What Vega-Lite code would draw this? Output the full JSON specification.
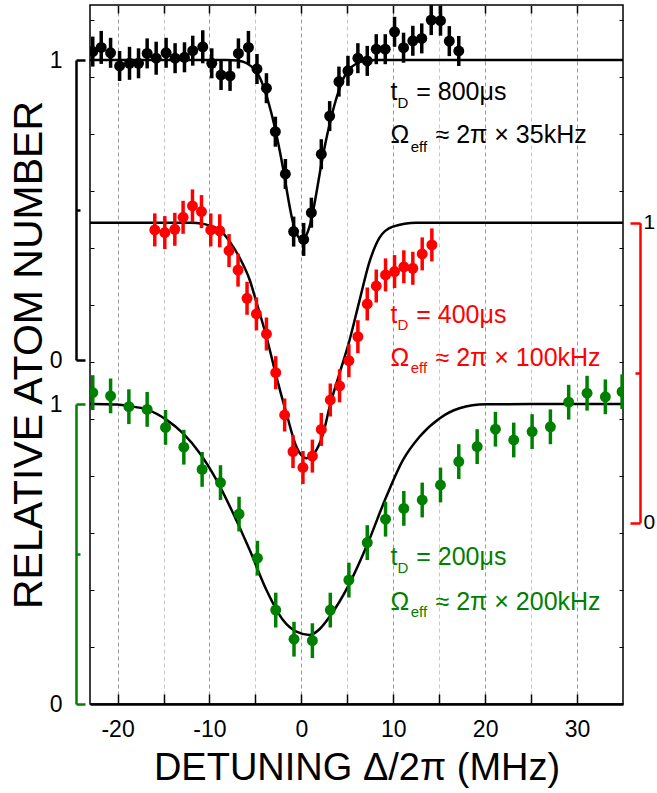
{
  "$schema": "https://vega.github.io/schema/vega-lite/v6.json",
  "width": 533,
  "height": 699,
  "autosize": {"type": "none"},
  "padding": {"left": 90, "top": 5, "right": 34, "bottom": 89},
  "config": {
    "font": "Liberation Sans",
    "view": {"stroke": "#000", "strokeWidth": 1.5},
    "axis": {"labelFont": "Liberation Sans", "titleFont": "Liberation Sans", "titleFontWeight": "normal", "labelColor": "#000", "titleColor": "#000", "tickColor": "#000", "domainColor": "#000"},
    "text": {"font": "Liberation Sans"}
  },
  "datasets": {
    "black": [
      {"x": -22.7, "y": 1.028, "e": 0.05}, {"x": -21.78, "y": 1.042, "e": 0.055}, {"x": -20.76, "y": 1.024, "e": 0.05},
      {"x": -19.78, "y": 0.98, "e": 0.05}, {"x": -18.7, "y": 0.989, "e": 0.055}, {"x": -17.72, "y": 0.989, "e": 0.05},
      {"x": -16.78, "y": 1.022, "e": 0.05}, {"x": -15.8, "y": 1.006, "e": 0.055}, {"x": -14.72, "y": 1.024, "e": 0.05},
      {"x": -13.74, "y": 1.006, "e": 0.05}, {"x": -12.72, "y": 1.009, "e": 0.05}, {"x": -11.82, "y": 1.031, "e": 0.05},
      {"x": -10.73, "y": 1.044, "e": 0.055}, {"x": -9.75, "y": 0.989, "e": 0.05}, {"x": -8.74, "y": 0.95, "e": 0.05},
      {"x": -7.76, "y": 0.947, "e": 0.05}, {"x": -6.85, "y": 1.022, "e": 0.05}, {"x": -5.76, "y": 1.042, "e": 0.055},
      {"x": -4.83, "y": 0.97, "e": 0.05}, {"x": -3.8, "y": 0.906, "e": 0.05}, {"x": -2.83, "y": 0.761, "e": 0.05},
      {"x": -1.74, "y": 0.62, "e": 0.05}, {"x": -0.84, "y": 0.428, "e": 0.05}, {"x": 0.25, "y": 0.402, "e": 0.055},
      {"x": 1.09, "y": 0.491, "e": 0.05}, {"x": 2.17, "y": 0.686, "e": 0.05}, {"x": 3.08, "y": 0.813, "e": 0.05},
      {"x": 4.09, "y": 0.928, "e": 0.05}, {"x": 5.07, "y": 0.964, "e": 0.05}, {"x": 6.15, "y": 1.006, "e": 0.05},
      {"x": 7.17, "y": 0.997, "e": 0.05}, {"x": 8.15, "y": 1.036, "e": 0.05}, {"x": 9.13, "y": 1.036, "e": 0.05},
      {"x": 10.14, "y": 1.094, "e": 0.05}, {"x": 11.12, "y": 1.041, "e": 0.05}, {"x": 12.13, "y": 1.064, "e": 0.05},
      {"x": 13.1, "y": 1.072, "e": 0.05}, {"x": 14.13, "y": 1.133, "e": 0.05}, {"x": 15.14, "y": 1.131, "e": 0.05},
      {"x": 16.1, "y": 1.063, "e": 0.05}, {"x": 17.13, "y": 1.03, "e": 0.05}
    ],
    "red": [
      {"x": -15.95, "y": 0.976, "e": 0.055}, {"x": -14.86, "y": 0.967, "e": 0.055}, {"x": -13.77, "y": 0.978, "e": 0.055},
      {"x": -12.87, "y": 1.018, "e": 0.055}, {"x": -11.85, "y": 1.056, "e": 0.055}, {"x": -10.87, "y": 1.037, "e": 0.055},
      {"x": -9.86, "y": 0.976, "e": 0.055}, {"x": -8.88, "y": 0.973, "e": 0.055}, {"x": -7.87, "y": 0.907, "e": 0.055},
      {"x": -6.89, "y": 0.842, "e": 0.055}, {"x": -5.91, "y": 0.748, "e": 0.055}, {"x": -4.89, "y": 0.696, "e": 0.055},
      {"x": -3.8, "y": 0.629, "e": 0.055}, {"x": -2.79, "y": 0.5, "e": 0.055}, {"x": -1.82, "y": 0.359, "e": 0.055},
      {"x": -0.91, "y": 0.237, "e": 0.055}, {"x": 0.17, "y": 0.184, "e": 0.055}, {"x": 1.2, "y": 0.222, "e": 0.055},
      {"x": 2.17, "y": 0.311, "e": 0.055}, {"x": 3.15, "y": 0.409, "e": 0.055}, {"x": 4.16, "y": 0.456, "e": 0.055},
      {"x": 5.17, "y": 0.54, "e": 0.055}, {"x": 6.15, "y": 0.62, "e": 0.055}, {"x": 7.17, "y": 0.729, "e": 0.055},
      {"x": 8.15, "y": 0.789, "e": 0.055}, {"x": 9.16, "y": 0.826, "e": 0.055}, {"x": 10.14, "y": 0.837, "e": 0.055},
      {"x": 11.15, "y": 0.853, "e": 0.055}, {"x": 12.13, "y": 0.848, "e": 0.055}, {"x": 13.15, "y": 0.896, "e": 0.055},
      {"x": 14.2, "y": 0.926, "e": 0.055}
    ],
    "green": [
      {"x": -22.7, "y": 1.038, "e": 0.058}, {"x": -20.76, "y": 1.027, "e": 0.058}, {"x": -18.77, "y": 0.991, "e": 0.058},
      {"x": -16.78, "y": 0.982, "e": 0.058}, {"x": -14.78, "y": 0.922, "e": 0.058}, {"x": -12.79, "y": 0.856, "e": 0.058},
      {"x": -10.8, "y": 0.782, "e": 0.058}, {"x": -8.8, "y": 0.738, "e": 0.058}, {"x": -6.78, "y": 0.633, "e": 0.058},
      {"x": -4.78, "y": 0.486, "e": 0.058}, {"x": -2.79, "y": 0.313, "e": 0.058}, {"x": -0.8, "y": 0.216, "e": 0.058},
      {"x": 1.2, "y": 0.211, "e": 0.058}, {"x": 3.15, "y": 0.313, "e": 0.058}, {"x": 5.17, "y": 0.413, "e": 0.058},
      {"x": 7.17, "y": 0.538, "e": 0.058}, {"x": 9.16, "y": 0.616, "e": 0.058}, {"x": 11.15, "y": 0.652, "e": 0.058},
      {"x": 13.15, "y": 0.68, "e": 0.058}, {"x": 15.14, "y": 0.73, "e": 0.058}, {"x": 17.13, "y": 0.808, "e": 0.058},
      {"x": 19.13, "y": 0.858, "e": 0.058}, {"x": 21.12, "y": 0.916, "e": 0.058}, {"x": 23.11, "y": 0.88, "e": 0.058},
      {"x": 25.11, "y": 0.908, "e": 0.058}, {"x": 27.1, "y": 0.924, "e": 0.058}, {"x": 29.09, "y": 1.006, "e": 0.058},
      {"x": 31.09, "y": 1.036, "e": 0.058}, {"x": 33.08, "y": 1.024, "e": 0.058}, {"x": 34.9, "y": 1.041, "e": 0.058}
    ],
    "blackFit": [
      {"x": -23, "y": 1.0}, {"x": -8, "y": 1.0}, {"x": -7, "y": 0.998}, {"x": -6, "y": 0.99}, {"x": -5, "y": 0.965},
      {"x": -4.5, "y": 0.94}, {"x": -4, "y": 0.9}, {"x": -3.5, "y": 0.85}, {"x": -3, "y": 0.79}, {"x": -2.5, "y": 0.72},
      {"x": -2, "y": 0.64}, {"x": -1.5, "y": 0.55}, {"x": -1, "y": 0.47}, {"x": -0.5, "y": 0.42}, {"x": 0.05, "y": 0.4},
      {"x": 0.6, "y": 0.42}, {"x": 1.1, "y": 0.47}, {"x": 1.6, "y": 0.55}, {"x": 2.1, "y": 0.64}, {"x": 2.6, "y": 0.72},
      {"x": 3.1, "y": 0.79}, {"x": 3.6, "y": 0.85}, {"x": 4.1, "y": 0.9}, {"x": 4.6, "y": 0.94}, {"x": 5.1, "y": 0.965},
      {"x": 6.1, "y": 0.99}, {"x": 7.1, "y": 0.998}, {"x": 8.1, "y": 1.0}, {"x": 35, "y": 1.0}
    ],
    "redFit": [
      {"x": -23, "y": 1.0}, {"x": -12, "y": 1.0}, {"x": -10.7, "y": 0.996}, {"x": -8.88, "y": 0.976}, {"x": -7.79, "y": 0.937},
      {"x": -6.7, "y": 0.882}, {"x": -5.62, "y": 0.809}, {"x": -4.89, "y": 0.735}, {"x": -3.8, "y": 0.62}, {"x": -2.72, "y": 0.487},
      {"x": -1.63, "y": 0.365}, {"x": -0.54, "y": 0.253}, {"x": 0.54, "y": 0.215}, {"x": 1.63, "y": 0.242}, {"x": 2.4, "y": 0.3},
      {"x": 3.08, "y": 0.387}, {"x": 4.16, "y": 0.498}, {"x": 5.25, "y": 0.609}, {"x": 6.34, "y": 0.742}, {"x": 7.42, "y": 0.87},
      {"x": 8.51, "y": 0.95}, {"x": 9.96, "y": 0.987}, {"x": 12.5, "y": 1.0}, {"x": 35, "y": 1.0}
    ],
    "greenFit": [
      {"x": -23, "y": 1.0}, {"x": -20, "y": 0.998}, {"x": -18.7, "y": 0.993}, {"x": -16.85, "y": 0.982}, {"x": -14.67, "y": 0.947},
      {"x": -12.87, "y": 0.902}, {"x": -11.05, "y": 0.836}, {"x": -9.24, "y": 0.747}, {"x": -7.43, "y": 0.636}, {"x": -5.62, "y": 0.513},
      {"x": -3.8, "y": 0.38}, {"x": -2.0, "y": 0.28}, {"x": -0.54, "y": 0.241}, {"x": 0.9, "y": 0.23}, {"x": 2.0, "y": 0.25},
      {"x": 3.08, "y": 0.291}, {"x": 5.25, "y": 0.402}, {"x": 7.07, "y": 0.524}, {"x": 9.24, "y": 0.691}, {"x": 11.05, "y": 0.813},
      {"x": 12.86, "y": 0.891}, {"x": 15.03, "y": 0.952}, {"x": 17.2, "y": 0.986}, {"x": 20.1, "y": 0.999}, {"x": 25, "y": 1.0},
      {"x": 35, "y": 1.0}
    ],
    "labels": [
      {"set": "black", "part": "main", "x": 9.7, "y": 0.867, "text": "t"},
      {"set": "black", "part": "sub", "x": 10.45, "y": 0.84, "text": "D"},
      {"set": "black", "part": "main", "x": 12.5, "y": 0.867, "text": "= 800μs"},
      {"set": "black", "part": "main", "x": 9.7, "y": 0.723, "text": "Ω"},
      {"set": "black", "part": "sub", "x": 11.9, "y": 0.693, "text": "eff"},
      {"set": "black", "part": "main", "x": 14.6, "y": 0.723, "text": "≈ 2π × 35kHz"},
      {"set": "red", "part": "main", "x": 9.7, "y": 0.666, "text": "t"},
      {"set": "red", "part": "sub", "x": 10.45, "y": 0.642, "text": "D"},
      {"set": "red", "part": "main", "x": 12.5, "y": 0.666, "text": "= 400μs"},
      {"set": "red", "part": "main", "x": 9.7, "y": 0.523, "text": "Ω"},
      {"set": "red", "part": "sub", "x": 11.9, "y": 0.498, "text": "eff"},
      {"set": "red", "part": "main", "x": 14.6, "y": 0.523, "text": "≈ 2π × 100kHz"},
      {"set": "green", "part": "main", "x": 9.7, "y": 0.463, "text": "t"},
      {"set": "green", "part": "sub", "x": 10.45, "y": 0.436, "text": "D"},
      {"set": "green", "part": "main", "x": 12.5, "y": 0.463, "text": "= 200μs"},
      {"set": "green", "part": "main", "x": 9.7, "y": 0.313, "text": "Ω"},
      {"set": "green", "part": "sub", "x": 11.9, "y": 0.289, "text": "eff"},
      {"set": "green", "part": "main", "x": 14.6, "y": 0.313, "text": "≈ 2π × 200kHz"}
    ]
  },
  "layer": [
    {
      "data": {"name": "black"},
      "mark": {"type": "point", "opacity": 0},
      "encoding": {
        "x": {"field": "x", "type": "quantitative", "scale": {"domain": [-23, 35], "nice": false, "zero": false},
          "axis": {"orient": "bottom", "values": [-20, -15, -10, -5, 0, 5, 10, 15, 20, 25, 30],
            "labelExpr": "datum.value % 10 === 0 ? '' + datum.value : ''",
            "grid": true, "gridColor": {"condition": {"test": "datum.value % 10 === 0", "value": "#9a9a9a"}, "value": "#c8c8c8"},
            "gridDash": [4, 3], "gridWidth": 1, "tickSize": -10, "tickWidth": 1.5, "labelFontSize": 23, "labelPadding": 24,
            "domain": true, "domainWidth": 2.5, "title": "DETUNING Δ/2π (MHz)", "titleFontSize": 38, "titlePadding": 8}},
        "y": {"field": "y", "type": "quantitative", "scale": {"domain": [0, 12.26], "nice": false, "zero": false},
          "axis": {"orient": "left", "values": [1, 2, 3, 4, 5, 6, 7, 8, 9, 10, 11, 12], "labels": false, "tickSize": -4, "tickWidth": 1,
            "domain": false, "grid": false, "title": "RELATIVE ATOM NUMBER", "titleFontSize": 41, "titlePadding": 39}}
      }
    },
    {
      "data": {"name": "black"},
      "mark": {"type": "point", "opacity": 0},
      "encoding": {
        "x": {"field": "x", "type": "quantitative", "scale": {"domain": [-23, 35], "nice": false, "zero": false},
          "axis": {"orient": "top", "values": [-20, -15, -10, -5, 0, 5, 10, 15, 20, 25, 30], "labels": false, "tickSize": -8, "tickWidth": 1.5,
            "domain": false, "grid": false, "title": null}},
        "y": {"field": "y", "type": "quantitative", "scale": {"domain": [0, 12.26], "nice": false, "zero": false},
          "axis": {"orient": "right", "values": [1, 2, 3, 4, 5, 6, 7, 8, 9, 10, 11, 12], "labels": false, "tickSize": -4, "tickWidth": 1,
            "domain": false, "grid": false, "title": null}}
      }
    },
    {
      "layer": [
        {
          "data": {"name": "blackFit"},
          "mark": {"type": "line", "color": "#000", "strokeWidth": 2.5, "interpolate": "monotone"},
          "encoding": {
            "x": {"field": "x", "type": "quantitative", "scale": {"domain": [-23, 35], "nice": false, "zero": false}, "axis": null},
            "y": {"field": "y", "type": "quantitative", "scale": {"domain": [0, 1], "range": [355, 55], "nice": false, "zero": false},
              "axis": {"orient": "left", "offset": 14, "values": [0, 0.5, 1], "labelExpr": "datum.value == 0.5 ? '' : '' + datum.value",
                "tickSize": {"condition": {"test": "datum.value == 0.5", "value": -4}, "value": -9}, "tickWidth": 2.5,
                "domain": true, "domainWidth": 2.5, "domainColor": "#000", "tickColor": "#000", "grid": false, "title": null,
                "labelFontSize": 23, "labelPadding": 23, "labelColor": "#000"}}
          }
        },
        {
          "data": {"name": "black"},
          "mark": {"type": "errorbar", "color": "#000", "thickness": 3.5},
          "encoding": {
            "x": {"field": "x", "type": "quantitative", "scale": {"domain": [-23, 35], "nice": false, "zero": false}, "axis": null},
            "y": {"field": "y", "type": "quantitative", "scale": {"domain": [0, 1], "range": [355, 55], "nice": false, "zero": false}},
            "yError": {"field": "e"}
          }
        },
        {
          "data": {"name": "black"},
          "mark": {"type": "circle", "color": "#000", "size": 120, "opacity": 1, "clip": true},
          "encoding": {
            "x": {"field": "x", "type": "quantitative", "scale": {"domain": [-23, 35], "nice": false, "zero": false}, "axis": null},
            "y": {"field": "y", "type": "quantitative", "scale": {"domain": [0, 1], "range": [355, 55], "nice": false, "zero": false}}
          }
        },
        {
          "data": {"name": "labels"},
          "transform": [{"filter": "datum.set == 'black'"}],
          "mark": {"type": "text", "color": "#000", "align": "left", "baseline": "alphabetic"},
          "encoding": {
            "x": {"field": "x", "type": "quantitative", "scale": {"domain": [-23, 35], "nice": false, "zero": false}, "axis": null},
            "y": {"field": "y", "type": "quantitative", "scale": {"domain": [0, 1], "range": [355, 55], "nice": false, "zero": false}},
            "text": {"field": "text"},
            "size": {"condition": {"test": "datum.part == 'sub'", "value": 15}, "value": 25}
          }
        }
      ]
    },
    {
      "layer": [
        {
          "data": {"name": "redFit"},
          "mark": {"type": "line", "color": "#000", "strokeWidth": 2.5, "interpolate": "monotone"},
          "encoding": {
            "x": {"field": "x", "type": "quantitative", "scale": {"domain": [-23, 35], "nice": false, "zero": false}, "axis": null},
            "y": {"field": "y", "type": "quantitative", "scale": {"domain": [0, 1], "range": [517.7, 217.7], "nice": false, "zero": false},
              "axis": {"orient": "right", "offset": 17, "values": [0, 0.5, 1], "labelExpr": "datum.value == 0.5 ? '' : '' + datum.value",
                "tickSize": {"condition": {"test": "datum.value == 0.5", "value": -5}, "value": -10}, "tickWidth": 2.5,
                "domain": true, "domainWidth": 2.5, "domainColor": "#ff0000", "tickColor": "#ff0000", "grid": false, "title": null,
                "labelFontSize": 21, "labelPadding": 13, "labelColor": "#000"}}
          }
        },
        {
          "data": {"name": "red"},
          "mark": {"type": "errorbar", "color": "#ff0000", "thickness": 3.5},
          "encoding": {
            "x": {"field": "x", "type": "quantitative", "scale": {"domain": [-23, 35], "nice": false, "zero": false}, "axis": null},
            "y": {"field": "y", "type": "quantitative", "scale": {"domain": [0, 1], "range": [517.7, 217.7], "nice": false, "zero": false}},
            "yError": {"field": "e"}
          }
        },
        {
          "data": {"name": "red"},
          "mark": {"type": "circle", "color": "#ff0000", "size": 120, "opacity": 1},
          "encoding": {
            "x": {"field": "x", "type": "quantitative", "scale": {"domain": [-23, 35], "nice": false, "zero": false}, "axis": null},
            "y": {"field": "y", "type": "quantitative", "scale": {"domain": [0, 1], "range": [517.7, 217.7], "nice": false, "zero": false}}
          }
        },
        {
          "data": {"name": "labels"},
          "transform": [{"filter": "datum.set == 'red'"}],
          "mark": {"type": "text", "color": "#ff0000", "align": "left", "baseline": "alphabetic"},
          "encoding": {
            "x": {"field": "x", "type": "quantitative", "scale": {"domain": [-23, 35], "nice": false, "zero": false}, "axis": null},
            "y": {"field": "y", "type": "quantitative", "scale": {"domain": [0, 1], "range": [517.7, 217.7], "nice": false, "zero": false}},
            "text": {"field": "text"},
            "size": {"condition": {"test": "datum.part == 'sub'", "value": 15}, "value": 25}
          }
        }
      ]
    },
    {
      "layer": [
        {
          "data": {"name": "greenFit"},
          "mark": {"type": "line", "color": "#000", "strokeWidth": 2.5, "interpolate": "monotone"},
          "encoding": {
            "x": {"field": "x", "type": "quantitative", "scale": {"domain": [-23, 35], "nice": false, "zero": false}, "axis": null},
            "y": {"field": "y", "type": "quantitative", "scale": {"domain": [0, 1], "range": [699, 399], "nice": false, "zero": false},
              "axis": {"orient": "left", "offset": 14, "values": [0, 0.5, 1], "labelExpr": "datum.value == 0.5 ? '' : '' + datum.value",
                "tickSize": {"condition": {"test": "datum.value == 0.5", "value": -4}, "value": -9}, "tickWidth": 2.5,
                "domain": true, "domainWidth": 2.5, "domainColor": "#008000", "tickColor": "#008000", "grid": false, "title": null,
                "labelFontSize": 23, "labelPadding": 23, "labelColor": "#000"}}
          }
        },
        {
          "data": {"name": "green"},
          "mark": {"type": "errorbar", "color": "#008000", "thickness": 3.5},
          "encoding": {
            "x": {"field": "x", "type": "quantitative", "scale": {"domain": [-23, 35], "nice": false, "zero": false}, "axis": null},
            "y": {"field": "y", "type": "quantitative", "scale": {"domain": [0, 1], "range": [699, 399], "nice": false, "zero": false}},
            "yError": {"field": "e"}
          }
        },
        {
          "data": {"name": "green"},
          "mark": {"type": "circle", "color": "#008000", "size": 120, "opacity": 1, "clip": true},
          "encoding": {
            "x": {"field": "x", "type": "quantitative", "scale": {"domain": [-23, 35], "nice": false, "zero": false}, "axis": null},
            "y": {"field": "y", "type": "quantitative", "scale": {"domain": [0, 1], "range": [699, 399], "nice": false, "zero": false}}
          }
        },
        {
          "data": {"name": "labels"},
          "transform": [{"filter": "datum.set == 'green'"}],
          "mark": {"type": "text", "color": "#008000", "align": "left", "baseline": "alphabetic"},
          "encoding": {
            "x": {"field": "x", "type": "quantitative", "scale": {"domain": [-23, 35], "nice": false, "zero": false}, "axis": null},
            "y": {"field": "y", "type": "quantitative", "scale": {"domain": [0, 1], "range": [699, 399], "nice": false, "zero": false}},
            "text": {"field": "text"},
            "size": {"condition": {"test": "datum.part == 'sub'", "value": 15}, "value": 25}
          }
        }
      ]
    }
  ],
  "resolve": {"scale": {"y": "independent"}, "axis": {"x": "independent", "y": "independent"}}
}
